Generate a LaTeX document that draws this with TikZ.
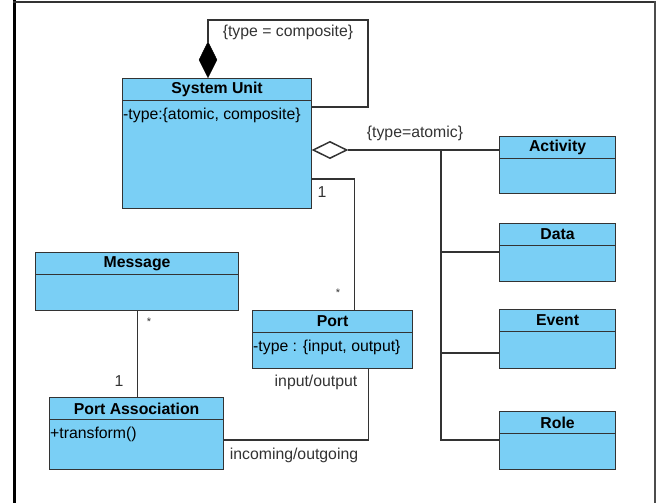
\documentclass[tikz,border=0pt]{standalone}
\usepackage{fontspec}
\setmainfont{Liberation Sans}
\usetikzlibrary{shapes.geometric, positioning}
\definecolor{uclass}{HTML}{7ACFF5}
\definecolor{uline}{HTML}{333333}
\tikzstyle{classbox} = [rectangle, draw=uline, line width=1.2pt, fill=uclass, anchor=north west, inner sep=0pt]
\tikzstyle{classhead} = [rectangle, draw=uline, line width=1.2pt, fill=uclass, anchor=north, minimum height=21.5pt, inner sep=0pt, font=\fontsize{15.8}{18}\selectfont\bfseries]
\tikzstyle{attr} = [anchor=west, inner sep=1pt]
\tikzstyle{link} = [line width=1.2pt, draw=uline]
\tikzstyle{tag} = [inner sep=0pt, text=uline]
\tikzstyle{mult} = [inner sep=0pt, text=uline, font=\fontsize{11}{12}\selectfont]

\begin{document}
\begin{tikzpicture}[x=1pt, y=-1pt, font=\fontsize{15.8}{18}\selectfont]
\useasboundingbox (0,0) rectangle (660,503);
%Frame
\draw [line width=3pt] (14,0) -- (14,503);
\draw [line width=2pt, uline] (13,2) -- (656,2);
\draw [line width=2.5pt, black!70] (655,1) -- (655,503);

%Classes
\node (sys) [classbox, minimum width=189pt, minimum height=130pt] at (122,78) {};
\node (syshead) [classhead, minimum width=189pt] at (sys.north) {System Unit};
\node (sysattr) [attr] at ([yshift=-15pt]syshead.south west) {-type:\{atomic, composite\}};

\node (act) [classbox, minimum width=116pt, minimum height=57pt] at (499,136) {};
\node (acthead) [classhead, minimum width=116pt] at (act.north) {Activity};
\node (data) [classbox, minimum width=116pt, minimum height=58pt] at (499,223) {};
\node (datahead) [classhead, minimum width=116pt] at (data.north) {Data};
\node (event) [classbox, minimum width=116pt, minimum height=59pt] at (499,309) {};
\node (eventhead) [classhead, minimum width=116pt] at (event.north) {Event};
\node (role) [classbox, minimum width=116pt, minimum height=58pt] at (499,411) {};
\node (rolehead) [classhead, minimum width=116pt] at (role.north) {Role};

\node (port) [classbox, minimum width=160pt, minimum height=58pt] at (252,310) {};
\node (porthead) [classhead, minimum width=160pt] at (port.north) {Port};
\node (portattr) [attr] at ([yshift=-15pt]porthead.south west) {-type : \{input, output\}};

\node (msg) [classbox, minimum width=203pt, minimum height=58pt] at (35,252) {};
\node (msghead) [classhead, minimum width=203pt] at (msg.north) {Message};

\node (pa) [classbox, minimum width=174pt, minimum height=72pt] at (49,397) {};
\node (pahead) [classhead, minimum width=174pt] at (pa.north) {Port Association};
\node (paattr) [attr] at ([yshift=-15pt]pahead.south west) {+transform()};

%Composition and aggregation
\node (compo) [diamond, aspect=0.5, fill=black, draw=black, minimum width=18pt, minimum height=36pt, inner sep=0pt, anchor=south] at (sys.north -| 208,0) {};
\node (aggr) [diamond, aspect=2, draw=uline, fill=white, line width=1.5pt, minimum width=34pt, minimum height=17pt, inner sep=0pt, anchor=west] at (sys.east |- 0,150) {};

\coordinate (looptop) at (368,20);
\draw [link] (compo.north) |- (looptop) |- (sys.east |- 0,107);
\node (comptag) [tag] at (288,32) {\{type = composite\}};

\draw [link] (aggr.east) -- (aggr.east -| act.west);
\node (atomtag) [tag] at (415,133) {\{type=atomic\}};
\coordinate (trunk) at (441,150);
\draw [link] (trunk) |- (data.west |- 0,252);
\draw [link] (trunk) |- (event.west |- 0,353);
\draw [link] (trunk) |- (role.west |- 0,440);

%Associations
\draw [link] (sys.east |- 0,179) -| ([xshift=22pt]port.north);
\node (sysone) [tag] at (322,192) {1};
\node (portmany) [mult] at (338,293) {*};

\draw [link] (msg.south) -- (msg.south |- pa.north);
\node (msgmany) [mult] at (149,322) {*};
\node (paone) [tag] at (119,381) {1};

\draw [link] (pa.east |- 0,440) -| ([xshift=36pt]port.south);
\node (iotag) [tag] at (316,382) {input/output};
\node (inouttag) [tag] at (294,455) {incoming/outgoing};
\end{tikzpicture}
\end{document}
